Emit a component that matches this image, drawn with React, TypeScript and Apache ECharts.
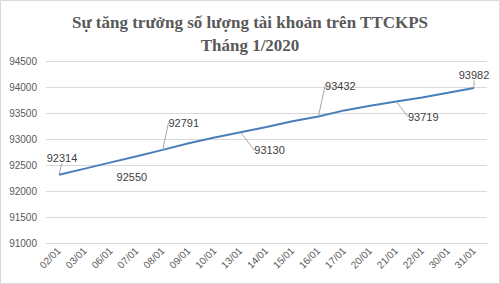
import React, { useEffect, useRef } from "react";
import * as echarts from "echarts";

const titleLines = ["Sự tăng trưởng số lượng tài khoản trên TTCKPS", "Tháng 1/2020"];
const categories = ["02/01", "03/01", "06/01", "07/01", "08/01", "09/01", "10/01", "13/01", "14/01", "15/01", "16/01", "17/01", "20/01", "21/01", "22/01", "30/01", "31/01"];
const accounts = [92314, 92430, 92550, 92670, 92791, 92920, 93030, 93130, 93230, 93340, 93432, 93550, 93640, 93719, 93800, 93890, 93982];
const labeledIdx = [0, 2, 4, 7, 10, 13, 16];
const noLeaderIdx = [2];
const yTicks = { min: 91000, max: 94500, interval: 500 };

// label offsets (pixels) relative to the default "top" label position
const labelShift: Record<number, [number, number]> = {
  0: [3, -7],
  2: [21, 25],
  4: [21, -17],
  7: [29, 28],
  10: [22, -21],
  13: [27, 25],
  16: [0, -3],
};

export default function App() {
  const ref = useRef<HTMLDivElement>(null);
  useEffect(() => {
    if (!ref.current) return;
    const chart = echarts.init(ref.current, null, { renderer: "svg" });
    chart.setOption({
      animation: false,
      backgroundColor: "#ffffff",
      title: {
        text: titleLines.join("\n"),
        left: "center",
        top: 6,
        textStyle: {
          fontFamily: "Liberation Serif",
          fontWeight: "bold",
          fontSize: 17,
          color: "#595959",
          lineHeight: 23,
        },
      },
      graphic: [
        {
          type: "rect",
          shape: { x: 0.5, y: 0.5, width: 499, height: 283 },
          style: { fill: "none", stroke: "#d9d9d9", lineWidth: 1 },
          silent: true,
        },
      ],
      grid: { left: 46, right: 13, top: 61, bottom: 41, containLabel: false },
      xAxis: {
        type: "category",
        data: categories,
        boundaryGap: true,
        axisLine: { show: true, lineStyle: { color: "#d9d9d9" } },
        axisTick: { show: false },
        axisLabel: {
          rotate: 45,
          interval: 0,
          fontFamily: "Liberation Sans",
          fontSize: 10,
          color: "#595959",
          margin: 6,
        },
      },
      yAxis: {
        type: "value",
        min: yTicks.min,
        max: yTicks.max,
        interval: yTicks.interval,
        axisLine: { show: false },
        axisTick: { show: false },
        splitLine: { lineStyle: { color: "#d9d9d9", width: 1 } },
        axisLabel: {
          fontFamily: "Liberation Sans",
          fontSize: 10,
          color: "#595959",
          margin: 9,
          formatter: (v: number) => String(v),
        },
      },
      series: [
        {
          type: "line",
          data: accounts.map((v, i) => ({
            value: v,
            label: { show: labeledIdx.includes(i) },
            labelLine: { show: !noLeaderIdx.includes(i) },
          })),
          symbol: "circle",
          symbolSize: 1,
          showSymbol: true,
          itemStyle: { color: "rgba(0,0,0,0)", borderWidth: 0 },
          lineStyle: { color: "#4a7ebb", width: 2 },
          label: {
            show: false,
            position: "top",
            distance: 4,
            fontFamily: "Liberation Sans",
            fontSize: 11,
            color: "#404040",
            opacity: 1,
          },
          labelLine: {
            show: true,
            lineStyle: { color: "#a6a6a6", width: 1 },
          },
          labelLayout: (params: any) => {
            const s = labelShift[params.dataIndex];
            if (!s) return {};
            return { dx: s[0], dy: s[1] };
          },
        },
      ],
    });
    return () => chart.dispose();
  }, []);
  return (
    <div
      ref={ref}
      style={{ position: "fixed", left: 0, top: 0, width: 500, height: 284 }}
    />
  );
}
